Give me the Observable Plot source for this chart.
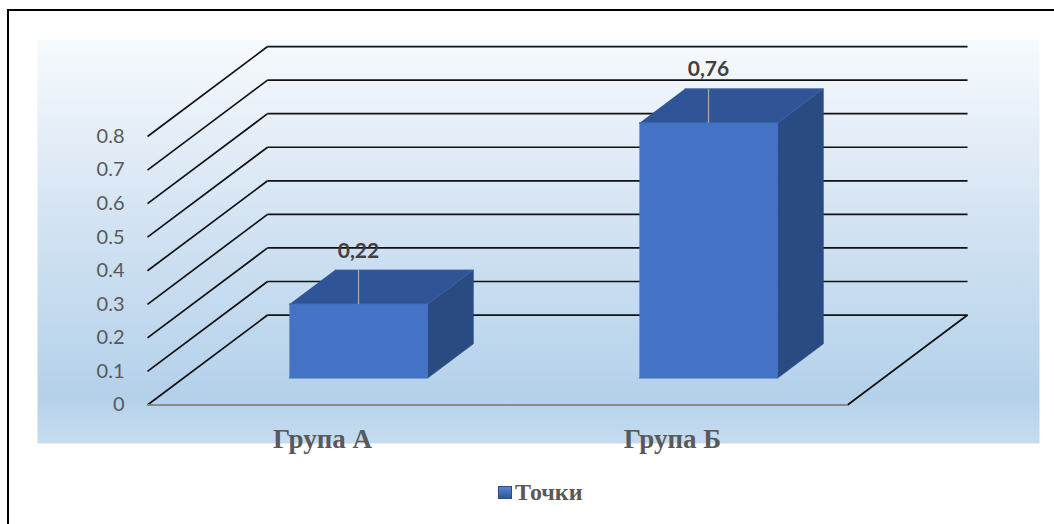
<!DOCTYPE html>
<html>
<head>
<meta charset="utf-8">
<script src="https://cdn.jsdelivr.net/npm/d3@7"></script>
<script src="https://cdn.jsdelivr.net/npm/@observablehq/plot@0.6"></script>
<style>
  html, body { margin: 0; padding: 0; background: #fff; overflow: hidden; }
  #frame { position: absolute; left: 7px; top: 9px; width: 1080px; height: 560px; border: 2px solid #000; box-sizing: border-box; }
  #chart { position: absolute; left: 0; top: 0; }
  #legend { position: absolute; left: 498px; top: 479px; display: flex; align-items: center; gap: 3px;
            font-family: "Liberation Serif", "Times New Roman", serif; font-weight: bold; font-size: 24px; color: #595959; }
  #legend .swatch { width: 14px; height: 13px; background: linear-gradient(#5b86d3, #2f5597); box-shadow: inset 0 0 0 1px #2a4d8c; }
</style>
</head>
<body>
<div id="frame"></div>
<div id="chart"></div>
<div id="legend"><span class="swatch"></span><span id="legendText"></span></div>
<script>
// Chart data
const categories = ["Група А", "Група Б"];
const values = [0.22, 0.76];
const valueLabels = ["0,22", "0,76"];
const seriesName = "Точки";
const yTicks = [0, 0.1, 0.2, 0.3, 0.4, 0.5, 0.6, 0.7, 0.8];
const yTickLabels = ["0", "0.1", "0.2", "0.3", "0.4", "0.5", "0.6", "0.7", "0.8"];

// Oblique 3D projection: depth d in [0, 1] shifts a point right and up
const DX = 0.343;   // category units per unit of depth
const DY = 0.268;   // value units per unit of depth
const D0 = 0.3, D1 = 0.68;   // bar depth span
const HALF = 0.1975;         // half bar width in category units
const nCat = categories.length;
const P = (c, v, d) => ({x: c + d * DX, y: v + d * DY});
const seg = (a, b) => ({x1: a.x, y1: a.y, x2: b.x, y2: b.y});

// Walls and floor
const backWall = yTicks.map(t => seg(P(0, t, 1), P(nCat, t, 1)));
const sideWall = yTicks.map(t => seg(P(0, t, 0), P(0, t, 1)));
const floorRight = [seg(P(nCat, 0, 0), P(nCat, 0, 1))];
const floorFront = [seg(P(0, 0, 0), P(nCat, 0, 0))];

// Bar faces as closed polygons
const frontFaces = [], topFaces = [], sideFaces = [], shadowFaces = [];
values.forEach((v, i) => {
  const c = i + 0.5, l = c - HALF, r = c + HALF;
  [P(l, 0, D0), P(r, 0, D0), P(r, v, D0), P(l, v, D0)].forEach(p => frontFaces.push({...p, bar: i}));
  [P(l, v, D0), P(r, v, D0), P(r, v, D1), P(l, v, D1)].forEach(p => topFaces.push({...p, bar: i}));
  [P(r, 0, D0), P(r, 0, D1), P(r, v, D1), P(r, v, D0)].forEach(p => sideFaces.push({...p, bar: i}));
  [P(l - 0.045, -0.012, D0), P(r + 0.02, -0.012, D0), P(r + 0.07, -0.01, D1 + 0.03), P(l + 0.02, -0.01, D1 + 0.03)]
    .forEach(p => shadowFaces.push({...p, bar: i}));
});

const tickText = yTicks.map((t, i) => ({...P(0, t, 0), label: yTickLabels[i]}));
const catText = categories.map((name, i) => ({...P(i + 0.5, 0, 0), label: name}));
const valueText = values.map((v, i) => ({x: i + 0.5 + D0 * DX, y: v + D1 * DY, label: valueLabels[i]}));
const leaders = values.map((v, i) => ({
  x1: i + 0.5 + D0 * DX, y1: v + D1 * DY,
  x2: i + 0.5 + D0 * DX, y2: v + D0 * DY
}));

const lato = "Lato, 'Open Sans', sans-serif";
const serif = "'Liberation Serif', 'Times New Roman', serif";

const chart = Plot.plot({
  width: 1054,
  height: 460,
  marginLeft: 37,
  marginTop: 39,
  marginRight: 15,
  marginBottom: 17,
  x: {type: "linear", domain: [0, nCat], range: [147, 847], axis: null},
  y: {type: "linear", domain: [0, 0.8], range: [404.5, 136], axis: null},
  style: {background: "transparent"},
  marks: [
    Plot.frame({fill: "url(#plotBg)", stroke: "none"}),
    Plot.link(backWall, {x1: "x1", y1: "y1", x2: "x2", y2: "y2", stroke: "#111", strokeWidth: 1.7}),
    Plot.link(sideWall, {x1: "x1", y1: "y1", x2: "x2", y2: "y2", stroke: "#111", strokeWidth: 1.7}),
    Plot.link(floorRight, {x1: "x1", y1: "y1", x2: "x2", y2: "y2", stroke: "#111", strokeWidth: 1.7}),
    Plot.link(floorFront, {x1: "x1", y1: "y1", x2: "x2", y2: "y2", stroke: "#8a8a8a", strokeWidth: 2}),
    Plot.line(shadowFaces, {x: "x", y: "y", z: "bar", fill: "#3a3f48", fillOpacity: 0.6, stroke: "none", ariaLabel: "bar-shadow"}),
    Plot.line(sideFaces, {x: "x", y: "y", z: "bar", fill: "#294b82", stroke: "#2c4f88", strokeWidth: 0.8}),
    Plot.line(topFaces, {x: "x", y: "y", z: "bar", fill: "#305596", stroke: "#3862a8", strokeWidth: 0.8}),
    Plot.line(frontFaces, {x: "x", y: "y", z: "bar", fill: "#4472c4", stroke: "#3f6cbb", strokeWidth: 1}),
    Plot.link(leaders, {x1: "x1", y1: "y1", x2: "x2", y2: "y2", stroke: "#a6a6a6", strokeWidth: 1.3}),
    Plot.text(valueText, {x: "x", y: "y", text: "label", dy: -19, fontFamily: lato, fontWeight: "bold", fontSize: 21, fill: "#404040"}),
    Plot.text(tickText, {x: "x", y: "y", text: "label", dx: -23, textAnchor: "end", fontFamily: lato, fontSize: 20, fill: "#595959"}),
    Plot.text(catText, {x: "x", y: "y", text: "label", dy: 34, fontFamily: serif, fontWeight: "bold", fontSize: 27, fill: "#595959"})
  ]
});

// Panel gradient and the soft blur for bar shadows
const svg = d3.select(chart);
const defs = svg.insert("defs", ":first-child");
const grad = defs.append("linearGradient").attr("id", "plotBg").attr("x1", 0).attr("y1", 0).attr("x2", 0).attr("y2", 1);
[[0, "#f7fafd"], [0.45, "#d3e3f3"], [0.88, "#b4d1ea"], [1, "#c6dcf0"]]
  .forEach(([o, c]) => grad.append("stop").attr("offset", o).attr("stop-color", c));
defs.append("filter").attr("id", "soft").attr("x", "-20%").attr("y", "-50%").attr("width", "140%").attr("height", "200%")
  .append("feGaussianBlur").attr("stdDeviation", 3);
svg.select('g[aria-label="bar-shadow"]').attr("filter", "url(#soft)");

document.getElementById("chart").appendChild(chart);
document.getElementById("legendText").textContent = seriesName;
</script>
</body>
</html>
